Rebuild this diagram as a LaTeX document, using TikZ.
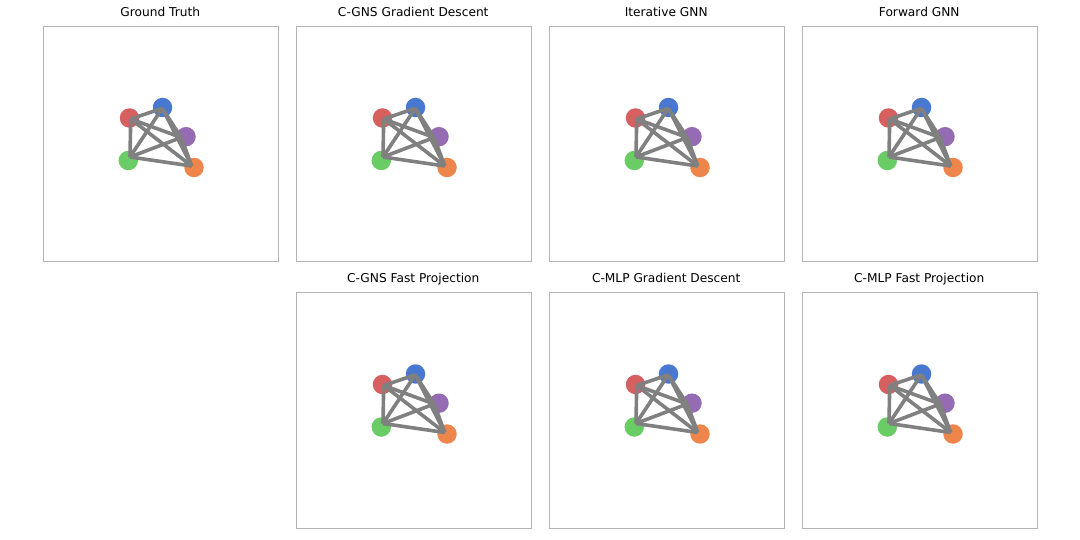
\documentclass[tikz,border=0pt]{standalone}
\usepackage{fontspec}
\setmainfont{DejaVu Sans}
\definecolor{nred}{HTML}{D65F5F}
\definecolor{nblue}{HTML}{4878D0}
\definecolor{npurple}{HTML}{956CB4}
\definecolor{ngreen}{HTML}{6ACC64}
\definecolor{norange}{HTML}{EE854A}
\definecolor{edgegray}{HTML}{808080}
\definecolor{framegray}{HTML}{B4B4B4}
\tikzset{
  vtx/.style={circle, inner sep=0pt, minimum size=19.5pt, fill=#1, draw=none},
  edg/.style={draw=edgegray, line width=3.6pt},
  frm/.style={draw=framegray, line width=1pt},
  ttl/.style={anchor=base, inner sep=0pt, font=\fontsize{12.2}{14}\selectfont}
}
\newcommand{\graphpanel}[4]{%
  \begin{scope}[shift={(#1,#2)}]
    \node[frm, rectangle, minimum width=234.5pt, minimum height=235.5pt, inner sep=0pt, anchor=north west] (#4box) at (0,0) {};
    \node[ttl] (#4title) at (117.25,-9.5) {#3};
    \node[vtx=nred] (#4R) at (86.5,92) {};
    \node[vtx=nblue] (#4B) at (119.5,81.5) {};
    \node[vtx=npurple] (#4P) at (143,110.7) {};
    \node[vtx=ngreen] (#4G) at (85.3,134.5) {};
    \node[vtx=norange] (#4O) at (151,141.5) {};
    \coordinate (#4r) at (87.7,93);
    \coordinate (#4b) at (119.3,82.3);
    \coordinate (#4p) at (138.2,111.5);
    \coordinate (#4g) at (87,131);
    \coordinate (#4o) at (148.7,140);
    \draw[edg] (#4r) -- (#4b);
    \draw[edg] (#4r) -- (#4g);
    \draw[edg] (#4r) -- (#4p);
    \draw[edg] (#4r) -- (#4o);
    \draw[edg] (#4b) -- (#4g);
    \draw[edg] (#4b) -- (#4p);
    \draw[edg] (#4b) -- (#4o);
    \draw[edg] (#4g) -- (#4p);
    \draw[edg] (#4g) -- (#4o);
    \draw[edg] (#4p) -- (#4o);
  \end{scope}}
\begin{document}
\begin{tikzpicture}[x=1pt,y=-1pt]
\useasboundingbox (0,0) rectangle (1080,540);
\graphpanel{43}{26}{Ground Truth}{gt}
\graphpanel{296}{26}{C-GNS Gradient Descent}{cgd}
\graphpanel{549}{26}{Iterative GNN}{ign}
\graphpanel{802}{26}{Forward GNN}{fgn}
\graphpanel{296}{292.5}{C-GNS Fast Projection}{cfp}
\graphpanel{549}{292.5}{C-MLP Gradient Descent}{mgd}
\graphpanel{802}{292.5}{C-MLP Fast Projection}{mfp}
\end{tikzpicture}
\end{document}
